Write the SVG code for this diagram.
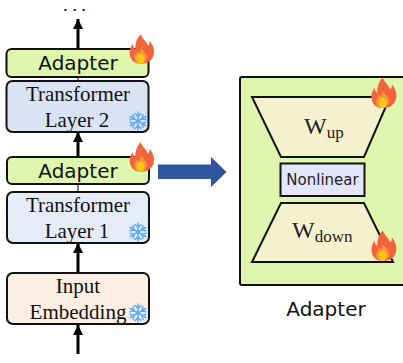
<svg xmlns="http://www.w3.org/2000/svg" width="403" height="363" viewBox="0 0 403 363">
<style>
.box{stroke:#111;stroke-width:2}
.conn{stroke:#000;stroke-width:3;fill:none}
.serif{font-family:"Liberation Serif",serif;font-size:21px;fill:#111;text-anchor:middle}
.ad{font-family:"DejaVu Sans",sans-serif;font-size:20px;fill:#111;text-anchor:middle}
.shape{stroke:#111;stroke-width:2;fill:#f5f1ce;stroke-linejoin:miter}
.math{font-family:"Liberation Serif",serif;fill:#222}
</style>
<defs>
<g id="flame">
<path d="M2 -23C5 -17 9 -15 12 -9C14 -11 14 -13 14 -15C19 -9 21 -3 19 3C17 10 10 13 3 13C-5 13 -11 9 -12 2C-13 -3 -11 -8 -8 -11C-8 -8 -7 -6 -5 -5C-5 -12 -3 -18 2 -23Z" fill="#f4643a"/>
<path d="M3 -7C4 -3 9 -1 10 4C11 9 7 13 2 13C-3 13 -7 9 -6 4C-5 1 -3 0 -2 -3C-1 -1 0 0 1 0C1 -3 2 -5 3 -7Z" fill="#f8983a"/>
<ellipse cx="2" cy="7" rx="5" ry="6" fill="#f9c80e"/>
</g>
<g id="snow" stroke="#5aaaf4" stroke-width="1.500" fill="none" stroke-linecap="round">
<g id="arm"><path d="M0 0V-9M-3 -7.500L0 -4.500L3 -7.500"/></g>
<use href="#arm" transform="rotate(60)"/><use href="#arm" transform="rotate(120)"/><use href="#arm" transform="rotate(180)"/><use href="#arm" transform="rotate(240)"/><use href="#arm" transform="rotate(300)"/>
</g>
<marker id="ah" markerUnits="userSpaceOnUse" markerWidth="12" markerHeight="12" refX="10" refY="5" orient="auto"><path d="M0 0L10 5L0 10Z" fill="#000"/></marker>
</defs>
<rect width="403" height="363" fill="#fff"/>
<g id="connectors">
<path class="conn" d="M78 49V19" marker-end="url(#ah)"/>
<path class="conn" d="M78 157V132" marker-end="url(#ah)"/>
<path class="conn" d="M78 273V243" marker-end="url(#ah)"/>
<path class="conn" d="M78 354V325" marker-end="url(#ah)"/>
<path class="conn" d="M78 77V81M78 184V192" style="stroke-width:1"/>
<path d="M158 164.500H211V157L226.500 172L211 187V179H158Z" fill="#2f55a0"/>
</g>
<text x="77" y="10.500" font-family="DejaVu Sans,sans-serif" font-size="11" font-weight="700" letter-spacing="5" text-anchor="middle" fill="#111">...</text>
<g id="adapter-top">
<rect class="box" x="6.500" y="49" width="142" height="28" rx="5" fill="#dff6ae"/>
<text class="ad" x="78" y="70">Adapter</text>
<use href="#flame" transform="translate(139 53) scale(.76 .82)"/>
</g>
<g id="transformer-2">
<rect class="box" x="6.500" y="81" width="142" height="51" rx="6" fill="#d9e3f4"/>
<text class="serif" x="78" y="101">Transformer</text>
<text class="serif" x="77" y="127">Layer 2</text>
<use href="#snow" x="138" y="121"/>
</g>
<g id="adapter-mid">
<rect class="box" x="7" y="157" width="142" height="27" rx="5" fill="#dff6ae"/>
<text class="ad" x="78" y="178">Adapter</text>
<use href="#flame" transform="translate(139 161) scale(.76 .82)"/>
</g>
<g id="transformer-1">
<rect class="box" x="7" y="192" width="142" height="51" rx="6" fill="#e5ecf8"/>
<text class="serif" x="78" y="212">Transformer</text>
<text class="serif" x="77" y="238">Layer 1</text>
<use href="#snow" x="138" y="232"/>
</g>
<g id="input-embedding">
<rect class="box" x="7" y="273" width="142" height="51" rx="6" fill="#fbeee2"/>
<text class="serif" x="78" y="293">Input</text>
<text class="serif" x="78" y="319">Embedding</text>
<use href="#snow" x="138" y="313"/>
</g>
<g id="adapter-panel">
<rect class="box" x="240" y="77" width="170" height="208" rx="2" fill="#dff6ae"/>
<text x="326" y="316" font-family="DejaVu Sans,sans-serif" font-size="20" text-anchor="middle" fill="#111">Adapter</text>
</g>
<g id="w-up">
<path class="shape" d="M252 97H390L364 157H281Z"/>
<text class="math" x="304" y="134" font-size="24">W<tspan font-size="17" dy="4">up</tspan></text>
<use href="#flame" transform="translate(381 97) scale(.78 .85)"/>
</g>
<g id="nonlinear">
<rect x="280.500" y="163.500" width="84" height="32.500" fill="#e2e6fa" stroke="#111" stroke-width="2"/>
<text x="322.500" y="185" font-family="DejaVu Sans,sans-serif" font-size="15" text-anchor="middle" fill="#222">Nonlinear</text>
</g>
<g id="w-down">
<path class="shape" d="M281 203H364L393 262H252Z"/>
<text class="math" x="292" y="238" font-size="24">W<tspan font-size="17" dy="4">down</tspan></text>
<use href="#flame" transform="translate(381 250) scale(.78 .85)"/>
</g>
</svg>
